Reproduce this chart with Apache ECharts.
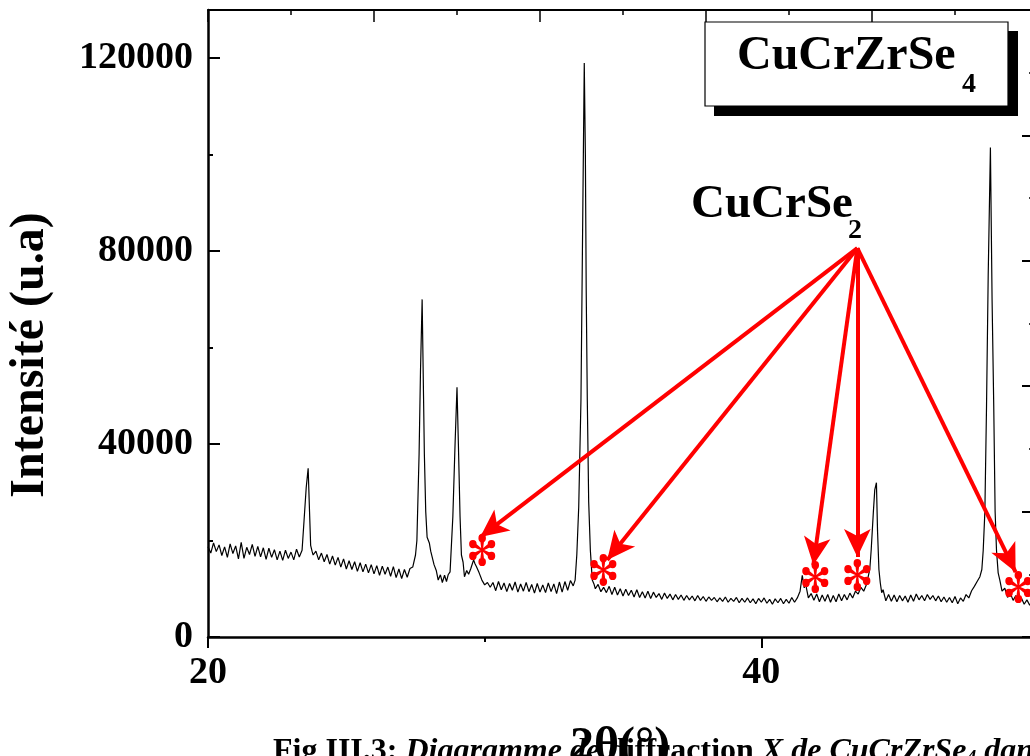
<!DOCTYPE html>
<html>
<head>
<meta charset="utf-8">
<script src="https://cdn.jsdelivr.net/npm/echarts@6.0.0/dist/echarts.min.js"></script>
<style>
  html, body { margin: 0; padding: 0; background: #fff; overflow: hidden; }
  #chart { width: 1060px; height: 756px; }
</style>
</head>
<body>
<div id="chart"></div>
<script>
// 2theta (deg) and counts
const twoTheta = [
  20.0, 20.1, 20.2, 20.3, 20.4, 20.5, 20.6, 20.7, 20.8, 20.9,
  21.0, 21.1, 21.2, 21.3, 21.4, 21.5, 21.6, 21.7, 21.8, 21.9,
  22.0, 22.1, 22.2, 22.3, 22.4, 22.5, 22.6, 22.7, 22.8, 22.9,
  23.0, 23.1, 23.2, 23.3,
  23.4, 23.47, 23.55, 23.62, 23.67, 23.71, 23.76,
  23.8, 23.9,
  24.0, 24.1, 24.2, 24.3, 24.4, 24.5, 24.6, 24.7, 24.8, 24.9,
  25.0, 25.1, 25.2, 25.3, 25.4, 25.5, 25.6, 25.7, 25.8, 25.9,
  26.0, 26.1, 26.2, 26.3, 26.4, 26.5, 26.6, 26.7, 26.8, 26.9,
  27.0, 27.1, 27.2, 27.3,
  27.4, 27.5, 27.55, 27.63, 27.68, 27.74, 27.79, 27.82, 27.87, 27.92,
  28.0, 28.05, 28.1, 28.17, 28.25, 28.32, 28.4, 28.47, 28.55, 28.62, 28.68,
  28.75, 28.85, 28.93, 29.0, 29.05, 29.11, 29.16, 29.22, 29.27, 29.35,
  29.42, 29.5, 29.6, 29.65, 29.7, 29.8, 29.9, 30.0, 30.1, 30.2,
  30.3, 30.4, 30.5, 30.6, 30.7, 30.8, 30.9,
  31.0, 31.1, 31.2, 31.3, 31.4, 31.5, 31.6, 31.7, 31.8, 31.9,
  32.0, 32.1, 32.2, 32.3, 32.4, 32.5, 32.6, 32.7, 32.8, 32.9,
  33.0, 33.1, 33.2,
  33.27, 33.33, 33.4, 33.48, 33.55, 33.6, 33.64, 33.67, 33.71, 33.76, 33.82, 33.89, 33.95,
  34.0, 34.1, 34.2, 34.3, 34.4, 34.5, 34.6, 34.7, 34.8, 34.9,
  35.0, 35.1, 35.2, 35.3, 35.4, 35.5, 35.6, 35.7, 35.8, 35.9,
  36.0, 36.1, 36.2, 36.3, 36.4, 36.5, 36.6, 36.7, 36.8, 36.9,
  37.0, 37.1, 37.2, 37.3, 37.4, 37.5, 37.6, 37.7, 37.8, 37.9,
  38.0, 38.1, 38.2, 38.3, 38.4, 38.5, 38.6, 38.7, 38.8, 38.9,
  39.0, 39.1, 39.2, 39.3, 39.4, 39.5, 39.6, 39.7, 39.8, 39.9,
  40.0, 40.1, 40.2, 40.3, 40.4, 40.5, 40.6, 40.7, 40.8, 40.9,
  41.0, 41.1, 41.2, 41.3,
  41.4, 41.48, 41.55, 41.6, 41.7, 41.8, 41.9,
  42.0, 42.1, 42.2, 42.3, 42.4, 42.5, 42.6, 42.7, 42.8, 42.9,
  43.0, 43.1, 43.2, 43.3, 43.4, 43.5, 43.6, 43.7, 43.8,
  43.87, 43.92, 43.97, 44.05, 44.1, 44.16, 44.2, 44.25, 44.3, 44.35, 44.4,
  44.5, 44.6, 44.7, 44.8, 44.9,
  45.0, 45.1, 45.2, 45.3, 45.4, 45.5, 45.6, 45.7, 45.8, 45.9,
  46.0, 46.1, 46.2, 46.3, 46.4, 46.5, 46.6, 46.7, 46.8, 46.9,
  47.0, 47.1, 47.2, 47.3, 47.4, 47.5, 47.6, 47.7, 47.8, 47.9,
  47.97, 48.02, 48.08, 48.14, 48.2, 48.28, 48.34, 48.4, 48.45, 48.5, 48.56, 48.62,
  48.7, 48.8, 48.9, 49.0, 49.1, 49.2, 49.3, 49.4, 49.5, 49.6, 49.7, 49.8, 49.9, 50.0
];
const intensity = [
  18700, 17400, 19500, 17700, 19100, 16900, 18700, 16500, 19300, 17300,
  18900, 16200, 19600, 16300, 18600, 17100, 19200, 16700, 18800, 16600,
  18500, 16100, 18400, 16500, 18100, 16000, 17800, 15900, 18000, 16300,
  17600, 16000, 18200, 16600,
  18000, 24000, 31000, 35000, 26000, 19000, 17800,
  17000, 17800,
  16000, 17400, 15600, 17100, 15100, 16800, 14900, 16500, 14500, 16200,
  14100, 15800, 14000, 15600, 13600, 15400, 13500, 15100, 13300, 15000,
  13100, 14800, 12800, 14700, 13000, 14500, 12600, 14600, 12300, 14100,
  12100, 14000, 12400, 14200,
  14500, 17000, 20000, 38000, 55000, 70000, 50000, 38000, 26000, 20700,
  19500, 17800, 18200, 15000, 13800, 11800, 12900, 11300, 12800, 11500, 12900,
  13500, 25000, 40000, 51800, 40000, 25000, 17000, 15500, 12500, 13800,
  13000, 14200, 16000, 15200, 14600, 13300, 11800, 10800, 11300, 10300,
  11300, 9600, 11500, 9800, 11200, 9400, 11100,
  9700, 11400, 9300, 11000, 9500, 11300, 9400, 10900, 9100, 11100,
  9300, 10800, 9200, 11200, 9400, 11000, 9000, 11400, 9300, 11500,
  9700, 11700, 10600,
  11800, 17000, 27000, 49000, 90000, 119000, 100000, 72000, 49000, 28000, 18000, 11800, 11000,
  10000, 10900, 9400, 10300, 9200, 10500, 8800, 10300, 8700, 10000,
  8500, 9900, 8600, 9700, 8300, 9800, 8200, 9400, 8100, 9500,
  8000, 9300, 8200, 9000, 7800, 9100, 8000, 8900, 7700, 8800,
  7800, 8700, 7600, 8600, 7700, 8500, 7500, 8600, 7600, 8400,
  7400, 8300, 7600, 8200, 7300, 8100, 7400, 8300, 7200, 8000,
  7400, 8200, 7100, 8000, 7200, 8100, 7100, 7900, 6900, 8000,
  7200, 8100, 7000, 7800, 6800, 7900, 7100, 8000, 6900, 7800,
  7000, 8200, 7200, 8100,
  9500, 12800, 10200, 11000, 8100, 9000, 7600,
  8900, 7300, 8700, 7400, 8800, 7200, 8600, 7300, 8900, 7500,
  8800, 7700, 9100, 8100, 9500, 8900, 10300, 9500, 10900,
  10600, 14000, 18000, 26000, 30500, 32000, 22000, 14000, 11200, 9200, 9800,
  7500, 8800, 7400, 8700, 7300,
  8600, 7500, 8500, 7200, 8700, 7400, 8900, 7700, 8600, 7500,
  8800, 7800, 8600, 7500, 8500, 7300, 8300, 7200, 8200, 7100,
  8400, 6900, 8100, 7400, 8800, 8100, 9600, 10500, 11500, 12500,
  14000, 18000, 26000, 48000, 75000, 101500, 70000, 48000, 26000, 18000, 13300, 11800,
  9500, 10100, 8200, 9100, 7600, 8600, 7100, 8100, 6800, 7700, 6600, 7500, 6700, 7300
];

// CuCrSe2 reflections marked with red asterisks
const markerTheta = [29.91, 34.29, 41.95, 43.47, 49.29];
const markerCounts = [18030, 13890, 12435, 12850, 10360];
const arrowTipTheta = [29.84, 34.43, 41.88, 43.47, 49.19];
const arrowTipCounts = [20725, 15960, 14920, 16580, 13470];
const arrowOrigin = [43.47, 80620];

const serif = '"Liberation Serif", "Times New Roman", serif';

// six thin spokes ending in round blobs (the asterisk marker)
function asteriskPath() {
  const f = n => n.toFixed(2);
  let d = '';
  [-90, -30, 30, 90, 150, 210].forEach(deg => {
    const a = deg * Math.PI / 180;
    const ux = Math.cos(a), uy = Math.sin(a);
    const nx = -uy, ny = ux;
    const w0 = 0.7, w1 = 1.7, L = 7.2, R = 10, r = 3.5;
    d += 'M' + f(nx * w0) + ',' + f(ny * w0) +
      'L' + f(ux * L + nx * w1) + ',' + f(uy * L + ny * w1) +
      'L' + f(ux * L - nx * w1) + ',' + f(uy * L - ny * w1) +
      'L' + f(-nx * w0) + ',' + f(-ny * w0) + 'Z';
    const cx = ux * R, cy = uy * R;
    d += 'M' + f(cx + r) + ',' + f(cy) +
      'A' + r + ',' + r + ',0,1,0,' + f(cx - r) + ',' + f(cy) +
      'A' + r + ',' + r + ',0,1,0,' + f(cx + r) + ',' + f(cy) + 'Z';
  });
  return 'path://' + d;
}

const chart = echarts.init(document.getElementById('chart'));

const scan = twoTheta.map((t, i) => [t, intensity[i]]);

const axisStroke = { color: '#000', width: 2.5 };

chart.setOption({
  animation: false,
  backgroundColor: '#fff',
  grid: { left: 208, top: 10, right: 22, bottom: 119 },
  xAxis: [
    {
      type: 'value', position: 'bottom', min: 20, max: 50, interval: 20,
      axisLine: { onZero: false, lineStyle: axisStroke },
      axisTick: { inside: false, length: 11, lineStyle: { color: '#000', width: 2 } },
      axisLabel: {
        color: '#000', fontFamily: serif, fontWeight: 'bold', fontSize: 38,
        margin: 17, showMaxLabel: false, formatter: v => String(v)
      },
      splitLine: { show: false }
    },
    {
      type: 'value', position: 'bottom', min: 20, max: 50, interval: 10,
      axisLine: { show: false, onZero: false },
      axisTick: { inside: false, length: 5, lineStyle: { color: '#000', width: 2 } },
      axisLabel: { show: false },
      splitLine: { show: false }
    },
    {
      type: 'value', position: 'top', min: 0, max: 5, interval: 1,
      axisLine: { onZero: false, lineStyle: { color: '#000', width: 2 } },
      axisTick: { inside: true, length: 12, lineStyle: { color: '#000', width: 1.5 } },
      minorTick: { show: true, splitNumber: 2, length: 5, lineStyle: { color: '#000', width: 1.5 } },
      axisLabel: { show: false },
      splitLine: { show: false }
    }
  ],
  yAxis: [
    {
      type: 'value', position: 'left', min: 0, max: 130000, interval: 40000,
      axisLine: { onZero: false, lineStyle: axisStroke },
      axisTick: { inside: true, length: 12, lineStyle: { color: '#000', width: 2 } },
      axisLabel: {
        color: '#000', fontFamily: serif, fontWeight: 'bold', fontSize: 38,
        margin: 15, showMaxLabel: false, formatter: v => String(v)
      },
      splitLine: { show: false }
    },
    {
      type: 'value', position: 'left', min: 0, max: 130000, interval: 20000,
      axisLine: { show: false, onZero: false },
      axisTick: { inside: true, length: 5, lineStyle: { color: '#000', width: 2 } },
      axisLabel: { show: false },
      splitLine: { show: false }
    },
    {
      type: 'value', position: 'right', min: 0, max: 5, interval: 1,
      axisLine: { onZero: false, lineStyle: { color: '#000', width: 2 } },
      axisTick: { inside: true, length: 16, lineStyle: { color: '#000', width: 2 } },
      minorTick: { show: true, splitNumber: 2, length: 9, lineStyle: { color: '#000', width: 1.5 } },
      axisLabel: { show: false },
      splitLine: { show: false }
    }
  ],
  series: [{
    type: 'line',
    xAxisIndex: 0,
    yAxisIndex: 0,
    data: scan,
    showSymbol: false,
    symbol: 'none',
    lineStyle: { color: '#000', width: 1.2 },
    silent: true,
    markLine: {
      silent: true,
      symbol: ['none', 'arrow'],
      lineStyle: { color: '#ff0000', width: 4, type: 'solid' },
      label: { show: false },
      emphasis: { disabled: true },
      data: arrowTipTheta.map((t, i) => [
        { coord: arrowOrigin, symbol: 'none' },
        { coord: [t, arrowTipCounts[i]], symbol: 'arrow', symbolSize: [20, 28] }
      ])
    },
    markPoint: {
      silent: true,
      symbol: asteriskPath(),
      symbolSize: [29, 32],
      symbolKeepAspect: true,
      itemStyle: { color: '#ff0000' },
      label: { show: false },
      emphasis: { disabled: true },
      data: markerTheta.map((t, i) => ({ coord: [t, markerCounts[i]] }))
    }
  }],
  graphic: [
    // sample label box with drop shadow
    { type: 'rect', shape: { x: 714, y: 31, width: 304, height: 85 }, style: { fill: '#000' } },
    { type: 'rect', shape: { x: 705, y: 22, width: 303, height: 84 }, style: { fill: '#fff', stroke: '#000', lineWidth: 1.2 } },
    { type: 'text', x: 737, y: 57, style: { text: 'CuCrZrSe', font: 'bold 48px ' + serif, fill: '#000', textVerticalAlign: 'middle' } },
    { type: 'text', x: 962, y: 85, style: { text: '4', font: 'bold 28px ' + serif, fill: '#000', textVerticalAlign: 'middle' } },
    // phase label
    { type: 'text', x: 691, y: 205, style: { text: 'CuCrSe', font: 'bold 47px ' + serif, fill: '#000', textVerticalAlign: 'middle' } },
    { type: 'text', x: 848, y: 231, style: { text: '2', font: 'bold 28px ' + serif, fill: '#000', textVerticalAlign: 'middle' } },
    // axis titles
    {
      type: 'text', x: 31, y: 355, rotation: Math.PI / 2,
      style: { text: 'Intensité (u.a)', font: 'bold 48px ' + serif, fill: '#000', textAlign: 'center', textVerticalAlign: 'middle' }
    },
    {
      type: 'text', x: 273, y: 752,
      style: {
        text: '{b|Fig III.3: }{i|Diagramme de }{b|diffraction }{i|X de CuCrZrSe}{s|4}{i| dans les conditions normales}',
        fill: '#000', textVerticalAlign: 'middle',
        rich: {
          b: { font: 'bold 32px ' + serif, fill: '#000' },
          i: { font: 'italic bold 32px ' + serif, fill: '#000' },
          s: { font: 'italic bold 20px ' + serif, fill: '#000', padding: [14, 0, 0, 0] }
        }
      }
    },
    {
      type: 'text', x: 620, y: 748,
      style: { text: '2θ(°)', font: 'bold 48px ' + serif, fill: '#000', textAlign: 'center', textVerticalAlign: 'middle' }
    }
  ]
});
</script>
</body>
</html>
